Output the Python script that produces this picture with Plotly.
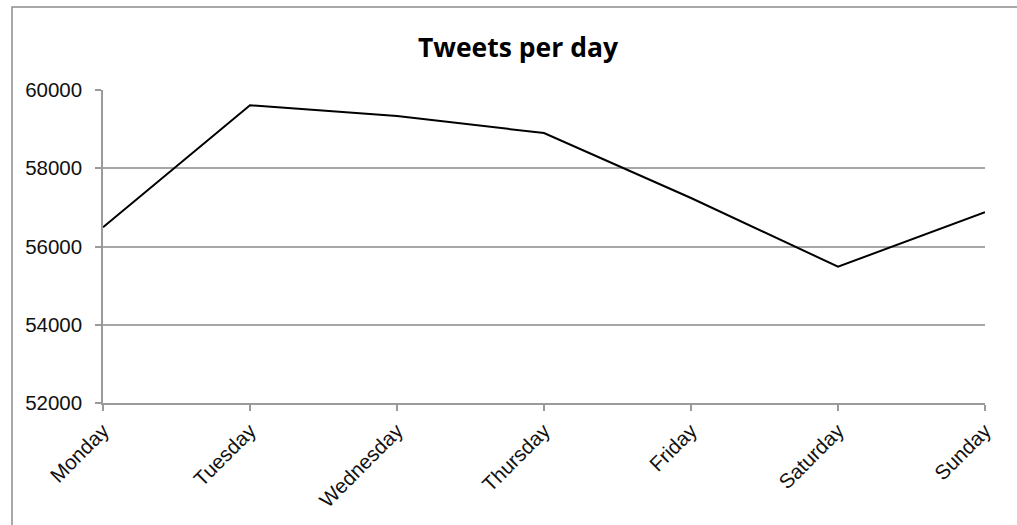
import plotly.graph_objects as go

days = ["Monday", "Tuesday", "Wednesday", "Thursday", "Friday", "Saturday", "Sunday"]
tweets = [56490, 59610, 59335, 58900, 57240, 55485, 56875]
y_ticks = [52000, 54000, 56000, 58000, 60000]
y_tick_text = ["52000", "54000", "56000", "58000", "60000"]

W, H = 1017, 525
L, R, T, B = 103, 32, 90, 122
pw, ph = W - L - R, H - T - B

def px(x):
    return (x - L) / pw

def py(y):
    return (H - B - y) / ph

fig = go.Figure()
fig.add_trace(go.Scatter(x=days, y=tweets, mode="lines",
                         line=dict(color="black", width=2), showlegend=False))

tick_font = dict(family="Liberation Sans", size=20.5, color="#111")

fig.update_layout(
    width=W, height=H,
    margin=dict(l=L, r=R, t=T, b=B, pad=0),
    paper_bgcolor="white", plot_bgcolor="white",
    title=dict(text="<b>Tweets per day</b>", x=518 / W, xanchor="center",
               y=1 - 48 / H, yanchor="middle",
               font=dict(family="Open Sans", size=26.5, color="black")),
    font=tick_font,
    xaxis=dict(range=[0, 6], tickangle=-45, showgrid=False, showline=True,
               linecolor="#9a9a9a", linewidth=1.5, ticks="outside", ticklen=6,
               tickcolor="#9a9a9a", tickwidth=1.5, zeroline=False,
               tickfont=tick_font),
    yaxis=dict(range=[52000, 60000.5], tickvals=y_ticks, ticktext=y_tick_text,
               showgrid=True, gridcolor="#a6a6a6", gridwidth=1.5, showline=True,
               linecolor="#9a9a9a", linewidth=1.5, ticks="outside", ticklen=6,
               tickcolor="#9a9a9a", tickwidth=1.5, zeroline=False,
               ticklabelstandoff=9, tickfont=tick_font),
)

fig.add_shape(type="rect", xref="paper", yref="paper",
              x0=px(12), x1=px(1030), y0=py(540), y1=py(7),
              line=dict(color="#8c8c8c", width=1.5), fillcolor="rgba(0,0,0,0)", layer="below")

fig.write_html("out.html")
